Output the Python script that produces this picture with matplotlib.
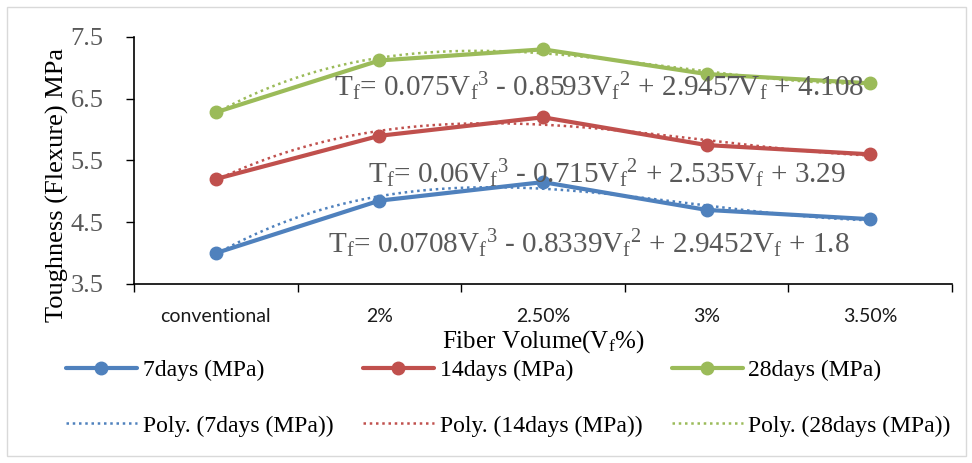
import numpy as np
import matplotlib
matplotlib.use("Agg")
import matplotlib.pyplot as plt
from matplotlib.patches import Rectangle

categories = ["conventional", "2%", "2.50%", "3%", "3.50%"]
days7 = [4.0, 4.85, 5.15, 4.7, 4.55]
days14 = [5.2, 5.9, 6.2, 5.75, 5.6]
days28 = [6.28, 7.12, 7.3, 6.9, 6.75]
series_names = ["7days (MPa)", "14days (MPa)", "28days (MPa)"]
colors = ["#4F81BD", "#C0504D", "#9BBB59"]
equations = [
    r"T$_\mathrm{f}$= 0.0708V$_\mathrm{f}$$^3$ - 0.8339V$_\mathrm{f}$$^2$ + 2.9452V$_\mathrm{f}$ + 1.8",
    r"T$_\mathrm{f}$= 0.06V$_\mathrm{f}$$^3$ - 0.715V$_\mathrm{f}$$^2$ + 2.535V$_\mathrm{f}$ + 3.29",
    r"T$_\mathrm{f}$= 0.075V$_\mathrm{f}$$^3$ - 0.8593V$_\mathrm{f}$$^2$ + 2.9457V$_\mathrm{f}$ + 4.108",
]
# label anchor (category units, value at baseline)
eq_pos = [(2.28, 4.0), (2.39, 5.13), (2.34, 6.54)]

plt.rcParams["font.family"] = ["Liberation Serif", "DejaVu Serif"]
plt.rcParams["mathtext.fontset"] = "custom"
plt.rcParams["mathtext.rm"] = "Liberation Serif"
plt.rcParams["mathtext.it"] = "Liberation Serif:italic"

fig = plt.figure(figsize=(9.72, 4.63), dpi=100)
ax = fig.add_axes([134 / 972, 1 - 284 / 463, 818 / 972, 247 / 463])

x = np.arange(len(categories))
xfine = np.linspace(0, len(categories) - 1, 200)
line_handles = []
poly_handles = []
for vals, name, c in zip([days7, days14, days28], series_names, colors):
    h, = ax.plot(x, vals, color=c, lw=3, marker="o", ms=9, label=name,
                 solid_capstyle="round", zorder=3)
    coef = np.polyfit(x + 1, vals, 3)
    p, = ax.plot(xfine, np.polyval(coef, xfine + 1), color=c, lw=1.8,
                 ls=(0, (1, 1.5)), label="Poly. (" + name + ")", zorder=2)
    line_handles.append(h)
    poly_handles.append(p)

for eq, (ex, ey) in zip(equations, eq_pos):
    ax.text(ex, ey, eq, ha="center", va="baseline", fontsize=21,
            color="#595959", zorder=4)

ax.set_xlim(-0.5, len(categories) - 0.5)
ax.set_ylim(3.5, 7.5)
ax.set_yticks([3.5, 4.5, 5.5, 6.5, 7.5])
ax.set_xticks(np.arange(-0.5, len(categories), 1.0))
ax.set_xticklabels([])
ax.set_xticks(x, minor=True)
ax.set_xticklabels(categories, minor=True, fontsize=14,
                   family=["Lato", "DejaVu Sans"], color="#1a1a1a")
ax.tick_params(axis="x", which="major", direction="out", length=6, width=1)
ax.tick_params(axis="x", which="minor", length=0, pad=17)
ax.tick_params(axis="y", direction="out", length=6, width=1, labelsize=19,
               labelcolor="#595959", pad=16)
for s in ["top", "right"]:
    ax.spines[s].set_visible(False)
for s in ["left", "bottom"]:
    ax.spines[s].set_linewidth(1.2)

ax.set_ylabel("Toughness (Flexure) MPa", fontsize=19, va="center")
ax.yaxis.set_label_coords(-0.093, 0.40)
ax.set_xlabel(r"Fiber Volume(V$_\mathrm{f}$%)", fontsize=18, va="center")
ax.xaxis.set_label_coords(0.5, -(342 - 284) / 247)

handles = []
for h, p in zip(line_handles, poly_handles):
    handles += [h, p]
fig.legend(handles=handles, ncol=3, loc="center left",
           bbox_to_anchor=(66 / 972, 1 - 398 / 463),
           frameon=False, fontsize=17, handlelength=3.0,
           handletextpad=0.25, labelspacing=1.45, columnspacing=1.25,
           borderpad=0, borderaxespad=0)

fig.patches.append(Rectangle((7 / 972, 7 / 463), 959 / 972, 449 / 463,
                             transform=fig.transFigure, fill=False,
                             edgecolor="#d9d9d9", lw=1))

fig.savefig("out.png", dpi=100)
